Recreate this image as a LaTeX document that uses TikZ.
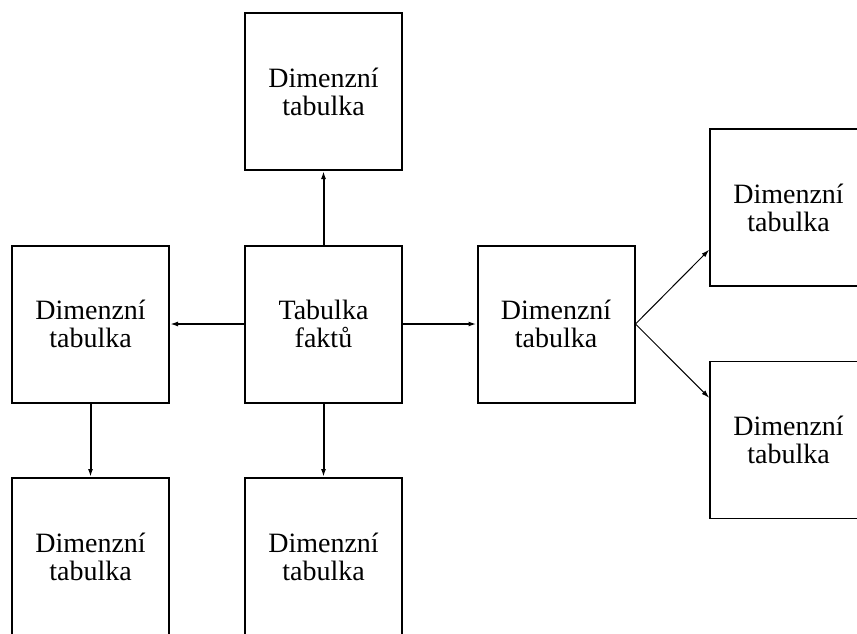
\documentclass[tikz,border=0pt]{standalone}
\usepackage{fontspec}
\setmainfont{Liberation Serif}
\usetikzlibrary{arrows.meta}
\tikzset{
  box/.style={draw, line width=2pt, rectangle, minimum width=157pt, minimum height=157pt, inner sep=0pt, align=center, font=\fontsize{28}{28}\selectfont},
  thinbox/.style={box, line width=1.5pt},
  conn/.style={line width=2pt, -{Latex[length=8pt,width=5pt]}},
  thinconn/.style={line width=1pt, -{Latex[length=8pt,width=5pt]}}
}
\begin{document}
\begin{tikzpicture}[x=1pt,y=-1pt]
\useasboundingbox (0,0) rectangle (857,633);
\clip (0,0) rectangle (857,633);
\node[box] (top) at (323.5,91.5) {Dimenzní\\tabulka};
\node[box] (left) at (90.5,324) {Dimenzní\\tabulka};
\node[box] (fact) at (323.5,324) {Tabulka\\faktů};
\node[box] (mid) at (556,324) {Dimenzní\\tabulka};
\node[thinbox] (rtop) at (788.5,207.5) {Dimenzní\\tabulka};
\node[thinbox] (rbot) at (788.5,440) {Dimenzní\\tabulka};
\node[box] (bleft) at (90.5,556.5) {Dimenzní\\tabulka};
\node[box] (bcent) at (323.5,556.5) {Dimenzní\\tabulka};
\draw[conn] (fact) -- (top);
\draw[conn] (fact) -- (left);
\draw[conn] (fact) -- (mid);
\draw[conn] (fact) -- (bcent);
\draw[conn] (left) -- (bleft);
\draw[thinconn] (mid.east) -- (rtop.208);
\draw[thinconn] (mid.east) -- (rbot.152);
\end{tikzpicture}
\end{document}
